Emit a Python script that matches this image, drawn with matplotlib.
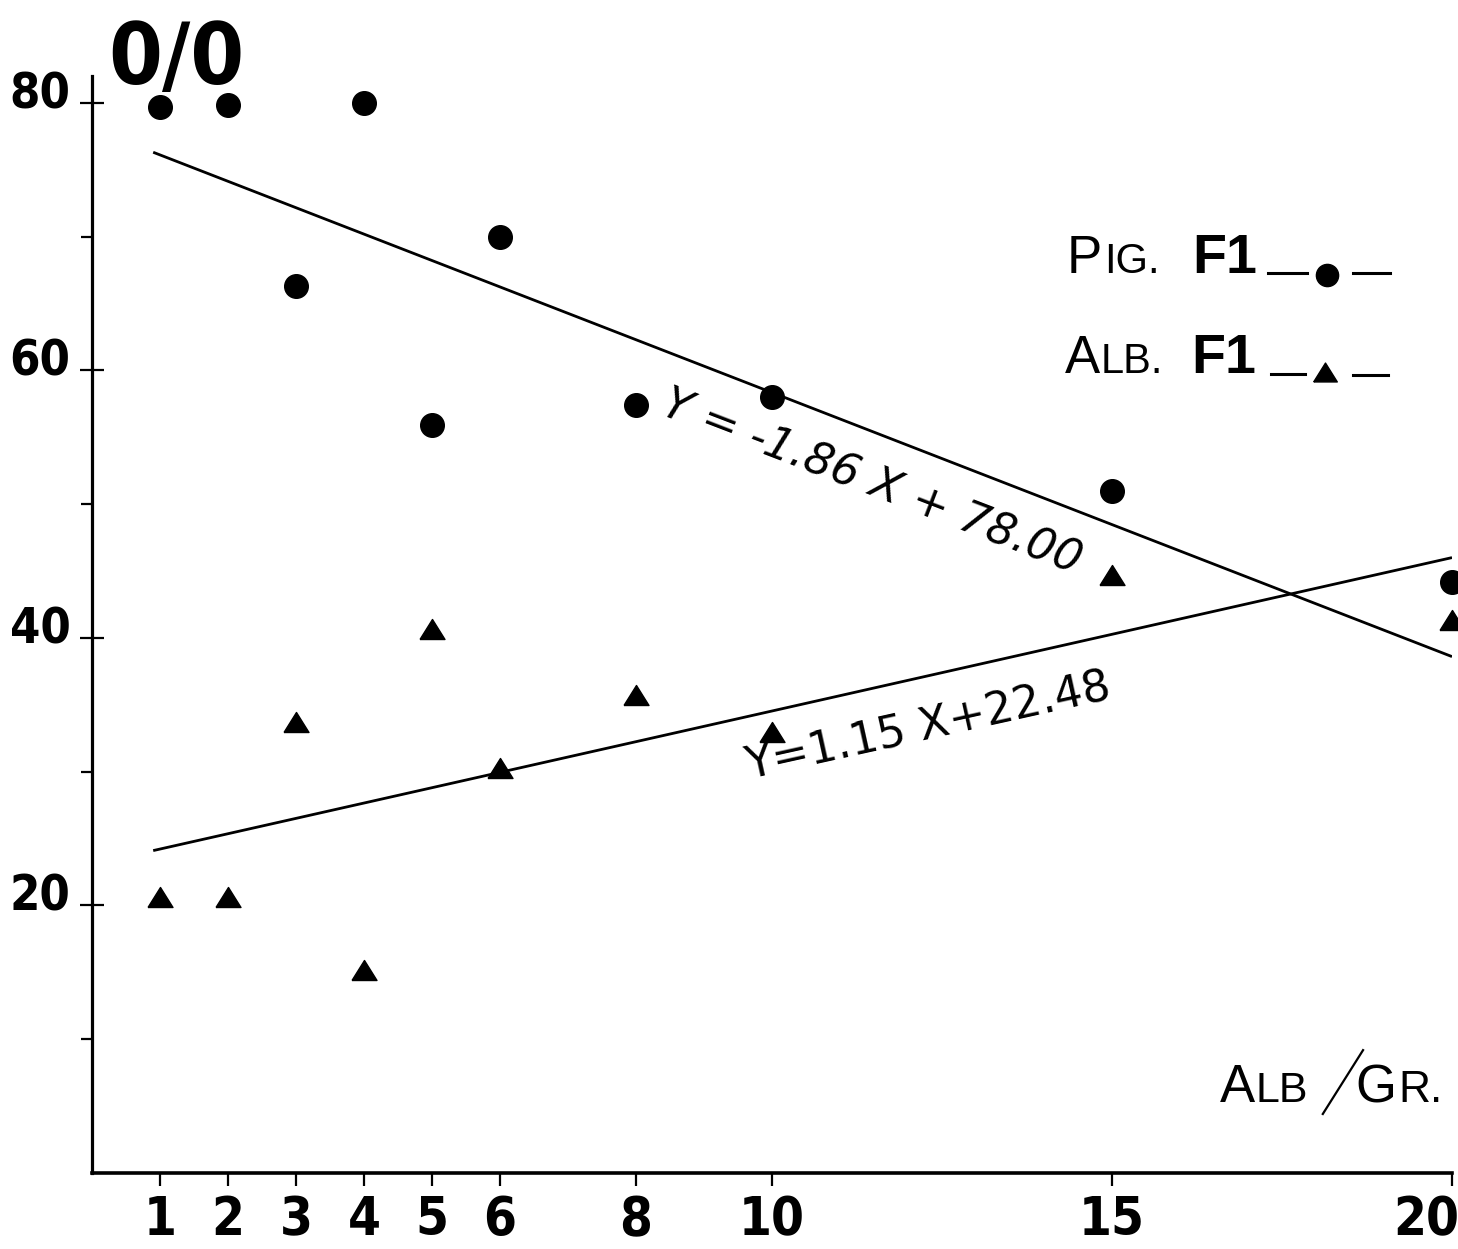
import os
import matplotlib
matplotlib.use("Agg")
import matplotlib.pyplot as plt
from matplotlib import font_manager as fm
from matplotlib.transforms import ScaledTranslation

# ---------------- data ----------------
x_values = [1, 2, 3, 4, 5, 6, 8, 10, 15, 20]
pig_f1 = [79.7, 79.8, 66.3, 80.0, 55.9, 70.0, 57.4, 58.0, 51.0, 44.2]
alb_f1 = [20.6, 20.6, 33.7, 15.2, 40.7, 30.3, 35.7, 33.0, 44.7, 41.3]
fit_x = [0.9, 20]
pig_fit = [76.3, 38.6]
alb_fit = [24.1, 46.0]
x_ticks = [1, 2, 3, 4, 5, 6, 8, 10, 15, 20]
x_tick_labels = ["1", "2", "3", "4", "5", "6", "8", "10", "15", "20"]
y_major = [20, 40, 60, 80]
y_major_labels = ["20", "40", "60", "80"]
y_minor = [10, 30, 50, 70]
pig_eq = "Y = -1.86 X + 78.00"
alb_eq = "Y=1.15 X+22.48"


def has_font(name):
    try:
        fm.findfont(fm.FontProperties(family=name), fallback_to_default=False)
        return True
    except Exception:
        return False


def pick(patterns, weight="bold"):
    files = sorted(set(f.fname for f in fm.fontManager.ttflist))
    for p in patterns:
        for fn in files:
            base = os.path.basename(fn).lower().replace("-", "").replace("_", "")
            if p in base and "italic" not in base and "oblique" not in base:
                return fm.FontProperties(fname=fn)
    return fm.FontProperties(family="DejaVu Sans", weight=weight)


COND = pick(["liberationsansnarrowbold", "dejavusanscondensedbold",
             "notosanscondensedbold", "robotocondensedbold",
             "opensanscondensedbold", "condensedbold", "narrowbold"])
XCOND = pick(["notosansextracondensedbold", "liberationsansnarrowbold",
              "dejavusanscondensedbold", "notosanscondensedbold",
              "robotocondensedbold", "condensedbold", "narrowbold"])
HEAVY = pick(["notosanscondensedblack", "notosanscondensedextrabold",
              "liberationsansnarrowbold", "dejavusanscondensedbold",
              "notosanscondensedbold", "robotocondensedbold", "condensedbold"])
SANS = "Liberation Sans" if has_font("Liberation Sans") else "DejaVu Sans"


def sized(fp, size):
    f = fp.copy()
    f.set_size(size)
    return f


fig = plt.figure(figsize=(14.58, 12.49), dpi=100)
ax = fig.add_axes([92 / 1458, 76 / 1249, 1360 / 1458, 1097 / 1249])
ax.set_xlim(0, 20)
ax.set_ylim(0, 82)

for side in ("top", "right"):
    ax.spines[side].set_visible(False)
ax.spines["left"].set_linewidth(2.3)
ax.spines["bottom"].set_linewidth(2.6)

# regression lines
ax.plot(fit_x, pig_fit, color="black", lw=2.0, solid_capstyle="butt")
ax.plot(fit_x, alb_fit, color="black", lw=2.0, solid_capstyle="butt")

tri = [(-1.0, -0.8), (1.0, -0.8), (0.0, 0.8), (-1.0, -0.8)]
ax.plot(x_values, pig_f1, linestyle="none", marker="o", markersize=17,
        color="black", clip_on=False, zorder=3)
ax.plot(x_values, alb_f1, linestyle="none", marker=tri, markersize=18,
        color="black", clip_on=False, zorder=3)

# ticks
ax.set_xticks(x_ticks)
ax.set_xticklabels(x_tick_labels, fontproperties=sized(XCOND, 38))
ax.set_yticks(y_major)
ax.set_yticklabels(y_major_labels, fontproperties=sized(COND, 35))
ax.set_yticks(y_minor, minor=True)
ax.tick_params(axis="x", direction="out", length=9, width=1.6, pad=6)
ax.tick_params(axis="y", which="major", direction="inout", length=17, width=1.6, pad=7)
ax.tick_params(axis="y", which="minor", direction="out", length=8, width=1.6)
for lab in ax.get_yticklabels():
    lab.set_verticalalignment("baseline")
    lab.set_transform(lab.get_transform() + ScaledTranslation(0, -4 / 72, fig.dpi_scale_trans))
last = ax.get_xticklabels()[-1]
last.set_horizontalalignment("right")
last.set_transform(last.get_transform() + ScaledTranslation(5 / 72, 0, fig.dpi_scale_trans))

# "0/0" header
ax.text(0.012, 0.993, "0/0", transform=ax.transAxes,
        fontproperties=sized(HEAVY, 62), ha="left", va="baseline")

# equations
ax.text(8.34, 56.7, pig_eq, fontsize=32, family="DejaVu Sans", style="italic",
        rotation=-21, rotation_mode="anchor", ha="left", va="baseline")
ax.text(9.66, 29.4, alb_eq, fontsize=32, family="DejaVu Sans",
        rotation=12.5, rotation_mode="anchor", ha="left", va="baseline")


def chain(x, y, pieces):
    prev = None
    prev_size = None
    for s, size, weight, gap in pieces:
        if prev is None:
            t = ax.text(x, y, s, transform=ax.transAxes, fontsize=size,
                        fontweight=weight, family=SANS, ha="left", va="baseline")
        else:
            t = ax.annotate(s, xy=(1, 0), xycoords=prev,
                            xytext=(gap, 0.212 * (prev_size - size)),
                            textcoords="offset points", fontsize=size,
                            fontweight=weight, family=SANS, ha="left", va="bottom")
        prev = t
        prev_size = size
    return prev


# legend-like labels
chain(0.717, 0.820, [("P", 38, "normal", 0), ("IG.", 30, "normal", 1),
                     ("F1", 40, "bold", 24)])
chain(0.715, 0.729, [("A", 38, "normal", 0), ("LB.", 30, "normal", 1),
                     ("F1", 40, "bold", 20)])
lk = dict(transform=ax.transAxes, color="black", lw=2.2, clip_on=False)
ax.plot([0.8647, 0.8934], [0.8204, 0.8204], **lk)
ax.plot([0.9272, 0.9545], [0.8204, 0.8204], **lk)
ax.plot([0.908], [0.8186], marker="o", markersize=16, transform=ax.transAxes,
        color="black", clip_on=False)
ax.plot([0.8669, 0.8919], [0.7284, 0.7284], **lk)
ax.plot([0.9272, 0.9529], [0.7274, 0.7274], **lk)
ax.plot([0.9066], [0.7302], marker=tri, markersize=17, transform=ax.transAxes,
        color="black", clip_on=False)

# axis label ALB/GR.
chain(0.829, 0.0647, [("A", 38, "normal", 0), ("LB", 31, "normal", 1),
                      ("G", 38, "normal", 34), ("R.", 32, "normal", 1)])
ax.plot([0.905, 0.9346], [0.0538, 0.112], transform=ax.transAxes,
        color="black", lw=1.6, clip_on=False)

fig.savefig("out.png", dpi=100)
